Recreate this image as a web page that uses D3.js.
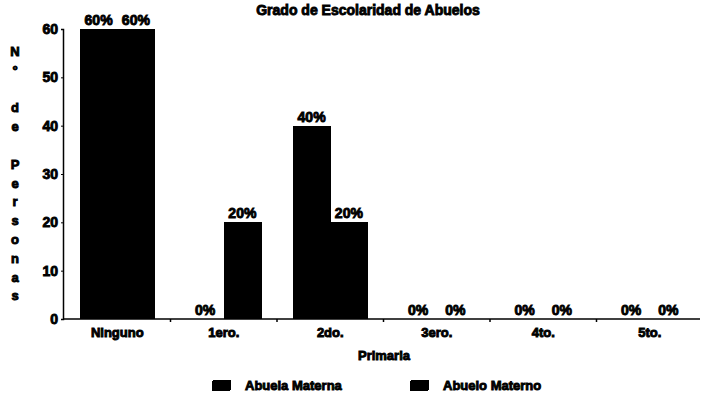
<!DOCTYPE html>
<html>
<head>
<meta charset="utf-8">
<script src="https://cdn.jsdelivr.net/npm/d3@7"></script>
<style>
  body { margin: 0; background: #fff; }
  text { font-family: "Liberation Sans", Arial, sans-serif; font-weight: bold; fill: #000; stroke: #000; stroke-width: 0.9px; }
  rect { shape-rendering: crispEdges; }
</style>
</head>
<body>
<div id="chart"></div>
<script>
// data
var categories = ["Ninguno", "1ero.", "2do.", "3ero.", "4to.", "5to."];
var seriesNames = ["Abuela Materna", "Abuelo Materno"];
var abuela = [60, 0, 40, 0, 0, 0];
var abuelo = [60, 20, 20, 0, 0, 0];
var yTicks = [0, 10, 20, 30, 40, 50, 60];
var yTitle = ["N", "\u00b0", "", "d", "e", "", "P", "e", "r", "s", "o", "n", "a", "s"];

var W = 703, H = 395;
var svg = d3.select("#chart").append("svg")
  .attr("width", W).attr("height", H);

var x0 = d3.scaleBand().domain(categories).range([64, 703])
  .paddingInner(0.3).paddingOuter(0.15);
var x1 = d3.scaleBand().domain(seriesNames).range([0, x0.bandwidth()]);
var y = d3.scaleLinear().domain([0, 60]).range([319, 29]);

// title
svg.append("text")
  .attr("x", 368).attr("y", 15)
  .attr("text-anchor", "middle")
  .attr("font-size", "14px")
  .text("Grado de Escolaridad de Abuelos");

// bars
var rows = categories.map(function(c, i) {
  return { cat: c, vals: [abuela[i], abuelo[i]] };
});
var g = svg.selectAll("g.grp").data(rows).enter().append("g")
  .attr("class", "grp")
  .attr("transform", function(d) { return "translate(" + x0(d.cat) + ",0)"; });

g.selectAll("rect").data(function(d) {
    return d.vals.map(function(v, k) { return { s: seriesNames[k], v: v }; });
  }).enter().append("rect")
  .attr("x", function(d) { return x1(d.s); })
  .attr("y", function(d) { return y(d.v); })
  .attr("width", x1.bandwidth() + 0.5)
  .attr("height", function(d) { return y(0) - y(d.v); })
  .attr("fill", "#000");

// percent labels above bars
g.selectAll("text").data(function(d) {
    return d.vals.map(function(v, k) { return { s: seriesNames[k], v: v }; });
  }).enter().append("text")
  .attr("x", function(d) { return x1(d.s) + x1.bandwidth() / 2; })
  .attr("y", function(d) { return y(d.v) - 4; })
  .attr("text-anchor", "middle")
  .attr("font-size", "14px")
  .text(function(d) { return d.v + "%"; });

// y axis
var yAxis = svg.append("g")
  .attr("transform", "translate(63,0)")
  .call(d3.axisLeft(y).tickValues(yTicks).tickSize(2).tickPadding(3));
yAxis.select(".domain").attr("stroke", "#000").attr("stroke-width", 1.5);
yAxis.selectAll("text").attr("font-size", "14px").style("font-family", null);

// x axis
var xAxis = svg.append("g")
  .attr("transform", "translate(0,319)")
  .call(d3.axisBottom(x0).tickSize(0).tickPadding(9));
xAxis.select(".domain").attr("d", "M63,0H700").attr("stroke", "#000").attr("stroke-width", 1.5);
xAxis.selectAll("text").attr("font-size", "13px").style("font-family", null);

// small marks between the groups
var step = x0.step();
xAxis.selectAll("line.sep").data(categories.slice(1)).enter().append("line")
  .attr("class", "sep")
  .attr("x1", function(d) { return x0(d) - step * 0.15; })
  .attr("x2", function(d) { return x0(d) - step * 0.15; })
  .attr("y1", 0).attr("y2", 3)
  .attr("stroke", "#000").attr("stroke-width", 1.5);

// x title
svg.append("text")
  .attr("x", 384).attr("y", 360)
  .attr("text-anchor", "middle")
  .attr("font-size", "13px")
  .text("Primaria");

// y title, stacked letters
svg.selectAll("text.ylet").data(yTitle).enter().append("text")
  .attr("class", "ylet")
  .attr("x", 15)
  .attr("y", function(d, i) { return 56 + i * 18.8; })
  .attr("text-anchor", "middle")
  .attr("font-size", "13px")
  .text(function(d) { return d; });

// legend
var legX = [212, 410];
var leg = svg.selectAll("g.leg").data(seriesNames).enter().append("g")
  .attr("class", "leg")
  .attr("transform", function(d, i) { return "translate(" + legX[i] + ",380)"; });
leg.append("rect")
  .attr("width", 19).attr("height", 11).attr("rx", 2)
  .attr("fill", "#000");
leg.append("text")
  .attr("x", 33).attr("y", 10)
  .attr("font-size", "13px")
  .text(function(d) { return d; });
</script>
</body>
</html>
